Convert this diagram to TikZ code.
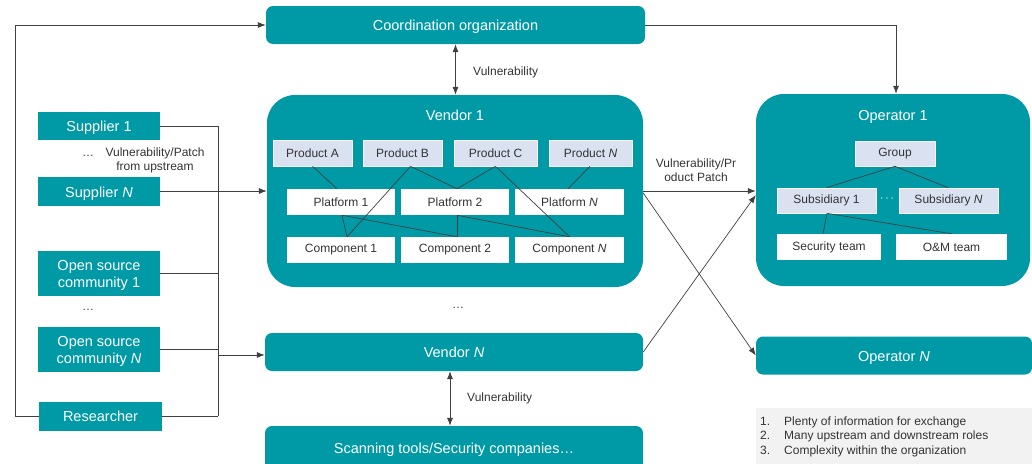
\documentclass[tikz,border=0pt]{standalone}
\usepackage{fontspec}
\setmainfont{Liberation Sans}
\usetikzlibrary{arrows.meta}
\definecolor{teal1}{HTML}{009AA6}
\definecolor{prodc}{HTML}{DAE2F2}
\definecolor{linec}{HTML}{404040}
\definecolor{txtc}{HTML}{333333}
\definecolor{notec}{HTML}{F2F2F2}
\begin{document}
\begin{tikzpicture}[x=1pt,y=-1pt,
 tealbox/.style={fill=teal1, draw=none, rounded corners=7pt, text=white, font=\fontsize{14.5}{17}\selectfont, inner sep=0pt, text height=11.5pt, text depth=0pt},
 bigbox/.style={fill=teal1, draw=none, rounded corners=28pt, inner sep=0pt},
 titletxt/.style={text=white, font=\fontsize{14.5}{17}\selectfont, inner sep=0pt, text height=11.5pt, text depth=0pt},
 leftbox/.style={fill=teal1, text=white, font=\fontsize{14.5}{17}\selectfont, align=center, inner sep=0pt, minimum width=122pt},
 onebox/.style={leftbox, text height=11.5pt, text depth=0pt},
 prodbox/.style={fill=prodc, draw=white, line width=0.6pt, text=txtc, font=\fontsize{12}{14}\selectfont, minimum height=26pt, inner sep=0pt},
 whitebox/.style={fill=white, text=txtc, font=\fontsize{12}{14}\selectfont, minimum height=26pt, inner sep=0pt},
 conn/.style={draw=linec, line width=0.7pt},
 arr/.style={conn, -{Latex[length=8pt,width=6pt]}},
 darr/.style={conn, {Latex[length=8pt,width=6pt]}-{Latex[length=8pt,width=6pt]}},
 lbl/.style={text=txtc, font=\fontsize{12}{14}\selectfont, inner sep=0pt},
]
\useasboundingbox (0,0) rectangle (1032,463);

% ---------- top ----------
\node[tealbox, minimum width=379pt, minimum height=38pt] (coord) at (455.5,25) {Coordination organization};

% ---------- Vendor 1 ----------
\node[bigbox, minimum width=376pt, minimum height=192pt] (v1) at (455,191) {};
\node[titletxt] (v1t) at (455,115) {Vendor 1};
\node[prodbox, minimum width=79pt] (pa) at (312.5,153) {Product A};
\node[prodbox, minimum width=79pt] (pb) at (402.5,153) {Product B};
\node[prodbox, minimum width=83pt] (pc) at (495.5,153) {Product C};
\node[prodbox, minimum width=83pt] (pn) at (590.5,153) {Product \textit{N}};
\node[whitebox, minimum width=108pt] (pl1) at (341,202) {Platform 1};
\node[whitebox, minimum width=108pt] (pl2) at (455,202) {Platform 2};
\node[whitebox, minimum width=109pt] (pln) at (569.5,202) {Platform \textit{N}};
\node[whitebox, minimum width=108pt] (c1) at (341,250) {Component 1};
\node[whitebox, minimum width=108pt] (c2) at (455,250) {Component 2};
\node[whitebox, minimum width=109pt] (cn) at (569.5,250) {Component \textit{N}};

\draw[conn] (pa.south) -- ([xshift=-4pt]pl1.north);
\draw[conn] ([xshift=8pt]pb.south) -- ([xshift=6pt]c1.north);
\draw[conn] ([xshift=8pt]pb.south) -- ([xshift=2pt]pl2.north);
\draw[conn] (pc.south) -- ([xshift=2pt]pl2.north);
\draw[conn] (pc.south) -- (cn.north);
\draw[conn] ([xshift=-0.5pt]pn.south) -- ([xshift=-1.5pt]pln.north);
\draw[conn] ([xshift=1pt]pl1.south) -- ([xshift=6pt]c1.north);
\draw[conn] ([xshift=1pt]pl1.south) -- ([xshift=2pt]c2.north);
\draw[conn] ([xshift=2pt]pl2.south) -- ([xshift=2pt]c2.north);
\draw[conn] ([xshift=2pt]pl2.south) -- (cn.north);

% ---------- Operator 1 ----------
\node[bigbox, minimum width=274pt, minimum height=192pt] (op1) at (893,190) {};
\node[titletxt] (op1t) at (893,115) {Operator 1};
\node[prodbox, minimum width=80pt, minimum height=25pt] (gr) at (895,153.5) {Group};
\node[prodbox, minimum width=99pt, minimum height=25pt] (s1b) at (826.5,200.5) {Subsidiary 1};
\node[prodbox, minimum width=99pt, minimum height=25pt] (snb) at (948.5,200.5) {Subsidiary \textit{N}};
\node[text=white, font=\fontsize{12}{14}\selectfont, inner sep=0pt] (subdots) at (887,199) {$\cdots$};
\node[whitebox, minimum width=104pt] (sec) at (829,247) {Security team};
\node[whitebox, minimum width=111pt] (om) at (951.5,247) {O\&M team};
\draw[conn] (gr.south) -- (s1b.north);
\draw[conn] (gr.south) -- ([xshift=-0.5pt]snb.north);
\draw[conn] ([xshift=0.5pt]s1b.south) -- ([xshift=-6pt]sec.north);
\draw[conn] ([xshift=0.5pt]s1b.south) -- (om.north);

% ---------- lower middle / right ----------
\node[tealbox, minimum width=378pt, minimum height=38pt] (vN) at (454,352) {Vendor \textit{N}};
\node[tealbox, minimum width=378pt, minimum height=44pt] (scan) at (454,448) {Scanning tools/Security companies…};
\node[tealbox, minimum width=276pt, minimum height=38pt] (opN) at (894,355.5) {Operator \textit{N}};
\node[lbl, text=linec] (vdots) at (458,308) {…};

\node[fill=notec, minimum width=276pt, minimum height=58pt, inner sep=0pt] (note) at (894,437) {};
\node[lbl, anchor=west] (notetext) at (760,437) {\fontsize{12}{14.7}\selectfont
\begin{tabular}{@{}l@{\hspace{14pt}}l@{}}
1. & Plenty of information for exchange\\
2. & Many upstream and downstream roles\\
3. & Complexity within the organization
\end{tabular}};

% ---------- left ----------
\node[onebox, minimum height=28pt] (supp1) at (99,126) {Supplier 1};
\node[onebox, minimum height=29pt] (suppN) at (99,191.5) {Supplier \textit{N}};
\node[leftbox, minimum height=45pt, text depth=0pt] (osc1) at (99,273.5) {Open source\\community 1};
\node[leftbox, minimum height=45pt, text depth=0pt] (oscN) at (99,349.5) {Open source\\community \textit{N}};
\node[onebox, minimum width=123pt, minimum height=29pt] (res) at (100.5,416) {Researcher};
\node[lbl, text=linec] (sdots) at (88,156) {…};
\node[lbl, text=linec] (odots) at (88,310) {…};
\node[lbl, align=center] (upl) at (155,160) {Vulnerability/Patch\\from upstream};

\coordinate (bus) at (218,0);
\coordinate (vNin) at ([yshift=-3pt]vN.west);
\draw[conn] (supp1.east) -- (supp1.east -| bus);
\draw[conn] (suppN.east) -- (suppN.east -| bus);
\draw[conn] (osc1.east) -- (osc1.east -| bus);
\draw[conn] (oscN.east) -- (oscN.east -| bus);
\draw[conn] (res.east) -- (res.east -| bus);
\draw[conn] (supp1.east -| bus) -- (res.east -| bus);
\draw[arr] (bus |- v1.west) -- (v1.west);
\draw[arr] (bus |- vNin) -- (vNin);
\draw[arr] (res.west) -- ++(-23,0) |- (coord.west);

% ---------- connectors ----------
\draw[darr] (coord.south) -- (coord.south |- v1.north);
\node[lbl, anchor=west] (vl1) at (473,72) {Vulnerability};
\draw[darr] ([xshift=-4pt]vN.south) -- ([xshift=-4pt]scan.north);
\node[lbl, anchor=west] (vl2) at (467,398) {Vulnerability};
\draw[arr] (coord.east) -| ([xshift=3pt]op1.north);
\draw[arr] (v1.east) -- (v1.east -| op1.west);
\node[lbl, align=center] (vpl) at (696,170) {Vulnerability/Pr\\oduct Patch};
\draw[arr] ([yshift=-2pt]v1.east) -- (opN.west);
\draw[arr] (vN.east) -- ([yshift=-5pt]op1.west);
\end{tikzpicture}
\end{document}
